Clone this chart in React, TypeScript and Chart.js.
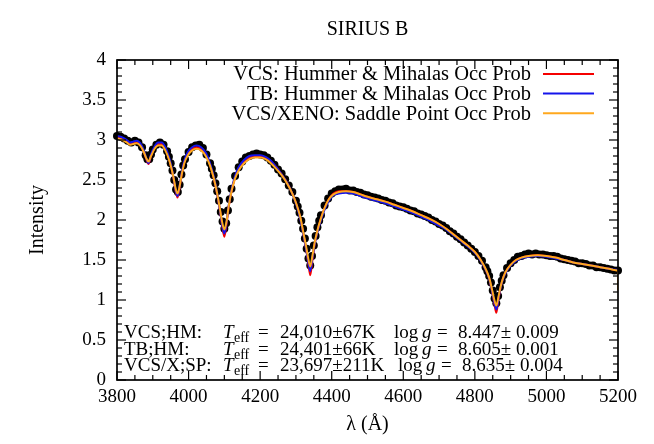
import React, { useEffect, useRef } from "react";
import { Chart, registerables } from "chart.js";

Chart.register(...registerables);

// ---------- data ----------
const MODEL_WAVE = [
  3800, 3810, 3820, 3830, 3836, 3845, 3855, 3865, 3875, 3882, 3888, 3895, 3905, 3915, 3925, 3935, 3945, 3952, 3958, 3964,
  3969, 3974, 3980, 3988, 3998, 4010, 4022, 4035, 4048, 4060, 4070, 4080, 4088, 4094, 4100, 4106, 4112, 4120, 4130, 4140,
  4155, 4170, 4185, 4200, 4215, 4230, 4245, 4260, 4275, 4290, 4302, 4312, 4320, 4328, 4334, 4340, 4346, 4352, 4360, 4370,
  4380, 4392, 4405, 4420, 4440, 4460, 4480, 4500, 4525, 4550, 4575, 4600, 4625, 4650, 4675, 4700, 4720, 4740, 4760, 4780,
  4800, 4815, 4830, 4840, 4848, 4854, 4860, 4866, 4872, 4880, 4890, 4900, 4915, 4930, 4950, 4975, 5000, 5025, 5050, 5075,
  5100, 5125, 5150, 5175, 5200,
];

const VCS_HM = [
  3.03, 3.02, 3.0, 2.97, 2.95, 2.96, 2.97, 2.94, 2.85, 2.76, 2.7, 2.8, 2.9, 2.95, 2.95, 2.89, 2.77, 2.65, 2.52, 2.36,
  2.28, 2.38, 2.55, 2.72, 2.83, 2.89, 2.91, 2.89, 2.82, 2.69, 2.53, 2.32, 2.11, 1.93, 1.79, 1.95, 2.16, 2.36, 2.53, 2.64,
  2.73, 2.78, 2.8, 2.8, 2.78, 2.73, 2.66, 2.57, 2.47, 2.33, 2.19, 2.03, 1.85, 1.65, 1.48, 1.31, 1.5, 1.69, 1.86, 2.02,
  2.15, 2.26, 2.33, 2.36, 2.36, 2.35, 2.32, 2.29, 2.26, 2.23, 2.19, 2.15, 2.11, 2.06, 2.01, 1.95, 1.89, 1.82, 1.75, 1.68,
  1.6, 1.51, 1.38, 1.27, 1.11, 0.97, 0.84, 1.01, 1.16, 1.29, 1.38, 1.44, 1.5, 1.53, 1.55, 1.56, 1.55, 1.53, 1.5, 1.47,
  1.45, 1.43, 1.41, 1.39, 1.37,
];

const TB_HM = [
  3.05, 3.04, 3.02, 2.99, 2.97, 2.98, 2.99, 2.96, 2.87, 2.77, 2.71, 2.82, 2.92, 2.97, 2.97, 2.91, 2.79, 2.67, 2.53, 2.37,
  2.3, 2.4, 2.57, 2.74, 2.85, 2.91, 2.93, 2.91, 2.84, 2.71, 2.55, 2.33, 2.11, 1.94, 1.83, 1.97, 2.18, 2.38, 2.55, 2.66,
  2.75, 2.8, 2.81, 2.81, 2.79, 2.74, 2.66, 2.57, 2.47, 2.33, 2.18, 2.02, 1.84, 1.65, 1.49, 1.36, 1.52, 1.69, 1.85, 2.0,
  2.13, 2.24, 2.31, 2.33, 2.34, 2.33, 2.3, 2.27, 2.24, 2.21, 2.17, 2.13, 2.09, 2.04, 1.99, 1.93, 1.88, 1.81, 1.74, 1.67,
  1.59, 1.5, 1.38, 1.27, 1.11, 0.98, 0.88, 1.02, 1.16, 1.28, 1.37, 1.43, 1.49, 1.52, 1.54, 1.55, 1.54, 1.52, 1.5, 1.47,
  1.45, 1.43, 1.41, 1.39, 1.38,
];

const VCS_XENO_SP = [
  3.02, 3.01, 2.99, 2.96, 2.94, 2.95, 2.96, 2.93, 2.85, 2.77, 2.73, 2.8, 2.89, 2.93, 2.93, 2.87, 2.76, 2.65, 2.53, 2.39,
  2.33, 2.4, 2.55, 2.71, 2.81, 2.87, 2.89, 2.87, 2.8, 2.68, 2.53, 2.33, 2.13, 1.97, 1.88, 1.98, 2.17, 2.36, 2.52, 2.62,
  2.71, 2.76, 2.78, 2.78, 2.76, 2.71, 2.64, 2.56, 2.46, 2.33, 2.19, 2.04, 1.86, 1.68, 1.53, 1.42, 1.55, 1.71, 1.87, 2.02,
  2.15, 2.26, 2.32, 2.35, 2.36, 2.35, 2.32, 2.29, 2.26, 2.23, 2.19, 2.15, 2.11, 2.06, 2.01, 1.95, 1.89, 1.82, 1.75, 1.68,
  1.6, 1.51, 1.39, 1.28, 1.13, 1.01, 0.93, 1.04, 1.17, 1.29, 1.38, 1.44, 1.5, 1.53, 1.55, 1.56, 1.55, 1.53, 1.5, 1.47,
  1.45, 1.43, 1.41, 1.39, 1.37,
];
const VCS_XENO_SP_END = 1.12;

const OBS_WAVE = [
  3800, 3810, 3820, 3830, 3840, 3850, 3860, 3870, 3880, 3885, 3890, 3895, 3900, 3910, 3920, 3930, 3940, 3945, 3950, 3955,
  3960, 3965, 3970, 3975, 3980, 3985, 3990, 4000, 4010, 4020, 4030, 4040, 4050, 4060, 4065, 4070, 4075, 4080, 4085, 4090,
  4095, 4100, 4105, 4110, 4115, 4120, 4130, 4140, 4150, 4160, 4170, 4180, 4190, 4200, 4210, 4220, 4230, 4240, 4250, 4260,
  4270, 4280, 4290, 4300, 4305, 4310, 4315, 4320, 4325, 4330, 4335, 4340, 4345, 4350, 4355, 4360, 4365, 4370, 4380, 4390,
  4400, 4410, 4420, 4430, 4440, 4450, 4460, 4470, 4480, 4490, 4500, 4510, 4520, 4530, 4540, 4550, 4560, 4570, 4580, 4590,
  4600, 4610, 4620, 4630, 4640, 4650, 4660, 4670, 4680, 4690, 4700, 4710, 4720, 4730, 4740, 4750, 4760, 4770, 4780, 4790,
  4800, 4810, 4820, 4830, 4835, 4840, 4845, 4850, 4855, 4860, 4865, 4870, 4875, 4880, 4890, 4900, 4910, 4920, 4930, 4940,
  4950, 4960, 4970, 4980, 4990, 5000, 5010, 5020, 5030, 5040, 5050, 5060, 5070, 5080, 5090, 5100, 5110, 5120, 5130, 5140,
  5150, 5160, 5170, 5180, 5190, 5200,
];

const OBS_FLUX = [
  3.05, 3.04, 3.02, 2.99, 2.97, 2.99, 2.97, 2.91, 2.81, 2.76, 2.76, 2.82, 2.88, 2.94, 2.97, 2.94, 2.86, 2.79, 2.71, 2.62,
  2.5, 2.38, 2.35, 2.44, 2.57, 2.68, 2.76, 2.85, 2.91, 2.93, 2.94, 2.9, 2.82, 2.71, 2.64, 2.56, 2.46, 2.36, 2.24, 2.1,
  1.98, 1.89, 1.96, 2.12, 2.26, 2.39, 2.55, 2.66, 2.73, 2.78, 2.8, 2.82, 2.83, 2.82, 2.81, 2.78, 2.74, 2.69, 2.63, 2.58,
  2.51, 2.43, 2.35, 2.24, 2.17, 2.09, 1.99, 1.89, 1.77, 1.64, 1.52, 1.43, 1.55, 1.68, 1.8, 1.91, 1.99, 2.06, 2.18, 2.27,
  2.33, 2.36, 2.38, 2.38, 2.39, 2.37, 2.37, 2.35, 2.34, 2.32, 2.31, 2.29, 2.28, 2.27, 2.25, 2.24, 2.22, 2.21, 2.18, 2.17,
  2.16, 2.14, 2.12, 2.11, 2.08, 2.07, 2.05, 2.03, 2.0, 1.98, 1.95, 1.93, 1.9, 1.86, 1.83, 1.79, 1.76, 1.72, 1.68, 1.64,
  1.6, 1.55, 1.49, 1.41, 1.36, 1.3, 1.22, 1.12, 1.02, 0.96, 1.05, 1.16, 1.24, 1.31, 1.4, 1.46, 1.5, 1.54, 1.55, 1.57,
  1.58, 1.57, 1.58, 1.57, 1.57, 1.56, 1.55, 1.55, 1.54, 1.52, 1.51, 1.5, 1.49, 1.48, 1.46, 1.46, 1.45, 1.43, 1.43, 1.41,
  1.41, 1.4, 1.39, 1.38, 1.37, 1.37,
];

const TITLE = "SIRIUS B";
const X_TITLE = "λ (Å)";
const Y_TITLE = "Intensity";
const LEGEND_LABELS = [
  "VCS: Hummer & Mihalas Occ Prob",
  "TB: Hummer & Mihalas Occ Prob",
  "VCS/XENO: Saddle Point Occ Prob",
];
const STAT_LABELS = ["VCS;HM:", "TB;HM:", "VCS/X;SP:"];
const STAT_TEFF = ["24,010±67K", "24,401±66K", "23,697±211K"];
const STAT_LOGG = ["8.447±", "8.605±", "8.635±"];
const STAT_LOGG_ERR = ["0.009", "0.001", "0.004"];

const COLORS = ["rgb(245,0,0)", "rgb(20,20,235)", "rgb(255,168,30)"];

// ---------- drawing ----------
const FONT = "'Liberation Serif', 'Times New Roman', serif";
const FS = 19;

const decorPlugin = {
  id: "decor",
  afterDatasetsDraw(chart: any) {
    const { ctx, chartArea: a, scales } = chart;
    const xs = scales.x;
    const ys = scales.y;
    ctx.save();
    ctx.strokeStyle = "#000";
    ctx.lineWidth = 1.2;
    const seg = (x1: number, y1: number, x2: number, y2: number) => {
      ctx.beginPath();
      ctx.moveTo(x1, y1);
      ctx.lineTo(x2, y2);
      ctx.stroke();
    };
    for (let k = 0; k <= 28; k++) {
      const v = xs.min + k * 50;
      const px = xs.getPixelForValue(v);
      const len = k % 4 === 0 ? 9 : 5;
      seg(px, a.bottom, px, a.bottom - len);
      seg(px, a.top, px, a.top + len);
    }
    for (let k = 0; k <= 40; k++) {
      const v = ys.min + k * 0.1;
      const py = ys.getPixelForValue(v);
      const len = k % 5 === 0 ? 9 : 5;
      seg(a.left, py, a.left + len, py);
      seg(a.right, py, a.right - len, py);
    }
    ctx.lineWidth = 1.7;
    ctx.strokeRect(a.left, a.top, a.right - a.left, a.bottom - a.top);

    // legend
    ctx.fillStyle = "#000";
    ctx.font = `20.5px ${FONT}`;
    ctx.textBaseline = "middle";
    ctx.textAlign = "right";
    LEGEND_LABELS.forEach((t, i) => {
      const y = 74 + i * 19.6;
      ctx.fillText(t, 531, y + 1);
      ctx.strokeStyle = COLORS[i];
      ctx.lineWidth = 2;
      seg(543, y, 594, y);
    });

    // stats block
    ctx.textAlign = "left";
    ctx.textBaseline = "alphabetic";
    const base = [338, 354.5, 371];
    const shift = [0, 0, 4];
    STAT_LABELS.forEach((lab, i) => {
      const y = base[i];
      const s = shift[i];
      ctx.font = `${FS}px ${FONT}`;
      ctx.fillText(lab, 124, y);
      ctx.font = `italic ${FS}px ${FONT}`;
      ctx.fillText("T", 223, y);
      ctx.font = `14px ${FONT}`;
      ctx.fillText("eff", 234, y + 4);
      ctx.font = `${FS}px ${FONT}`;
      ctx.fillText("=", 258, y);
      ctx.fillText(STAT_TEFF[i], 280, y);
      ctx.fillText("log", 394 + s, y);
      ctx.font = `italic ${FS}px ${FONT}`;
      ctx.fillText("g", 422 + s, y);
      ctx.font = `${FS}px ${FONT}`;
      ctx.fillText("=", 437 + s, y);
      ctx.fillText(STAT_LOGG[i], 458 + s, y);
      ctx.fillText(STAT_LOGG_ERR[i], 516 + s, y);
    });

    // titles
    const cx = (a.left + a.right) / 2;
    ctx.textAlign = "center";
    ctx.textBaseline = "middle";
    ctx.font = `20px ${FONT}`;
    ctx.fillText(TITLE, cx, 30);
    ctx.fillText(X_TITLE, cx, 425);
    ctx.save();
    ctx.translate(38, (a.top + a.bottom) / 2);
    ctx.rotate(-Math.PI / 2);
    ctx.fillText(Y_TITLE, 0, 0);
    ctx.restore();
    ctx.restore();
  },
};

export default function App() {
  const ref = useRef<HTMLCanvasElement | null>(null);
  useEffect(() => {
    document.body.style.margin = "0";
    const canvas = ref.current!;
    const pts = (w: number[], f: number[]) => w.map((x, i) => ({ x, y: f[i] }));
    const orange = pts(MODEL_WAVE, VCS_XENO_SP);
    orange.push({ x: MODEL_WAVE[MODEL_WAVE.length - 1], y: VCS_XENO_SP_END });
    const lineDs = (label: string, data: any[], color: string, order: number) => ({
      label,
      data,
      showLine: true,
      borderColor: color,
      backgroundColor: color,
      borderWidth: 2,
      pointRadius: 0,
      cubicInterpolationMode: "monotone",
      order,
    });
    const chart = new Chart(canvas, {
      type: "scatter",
      data: {
        datasets: [
          lineDs(LEGEND_LABELS[2], orange, COLORS[2], 0),
          lineDs(LEGEND_LABELS[1], pts(MODEL_WAVE, TB_HM), COLORS[1], 1),
          lineDs(LEGEND_LABELS[0], pts(MODEL_WAVE, VCS_HM), COLORS[0], 2),
          {
            label: "Observed",
            data: pts(OBS_WAVE, OBS_FLUX),
            showLine: false,
            pointRadius: 4,
            pointBorderWidth: 0,
            pointBackgroundColor: "#000",
            backgroundColor: "#000",
            borderColor: "#000",
            clip: 5,
            order: 3,
          } as any,
        ],
      },
      options: {
        responsive: false,
        animation: false,
        devicePixelRatio: 1,
        layout: { padding: { left: 0, right: 36, top: 60, bottom: 0 } },
        plugins: { legend: { display: false }, title: { display: false }, tooltip: { enabled: false } },
        scales: {
          x: {
            type: "linear",
            min: 3800,
            max: 5200,
            ticks: {
              stepSize: 200,
              color: "#000",
              font: { family: FONT, size: FS },
              padding: 6,
              maxRotation: 0,
              callback: (v: any) => String(Math.round(Number(v))),
            },
            grid: { display: false, drawTicks: false, tickLength: 0 },
            border: { display: false },
            afterFit: (s: any) => {
              s.height = 64;
            },
          },
          y: {
            type: "linear",
            min: 0,
            max: 4,
            ticks: {
              stepSize: 0.5,
              color: "#000",
              font: { family: FONT, size: FS },
              padding: 11,
              callback: (v: any) => String(Math.round(Number(v) * 10) / 10),
            },
            grid: { display: false, drawTicks: false, tickLength: 0 },
            border: { display: false },
            afterFit: (s: any) => {
              s.width = 117;
            },
          },
        },
      } as any,
      plugins: [decorPlugin],
    });
    return () => chart.destroy();
  }, []);
  return (
    <div style={{ width: 654, height: 444, background: "#fff" }}>
      <canvas ref={ref} width={654} height={444} style={{ display: "block", width: 654, height: 444 }} />
    </div>
  );
}
